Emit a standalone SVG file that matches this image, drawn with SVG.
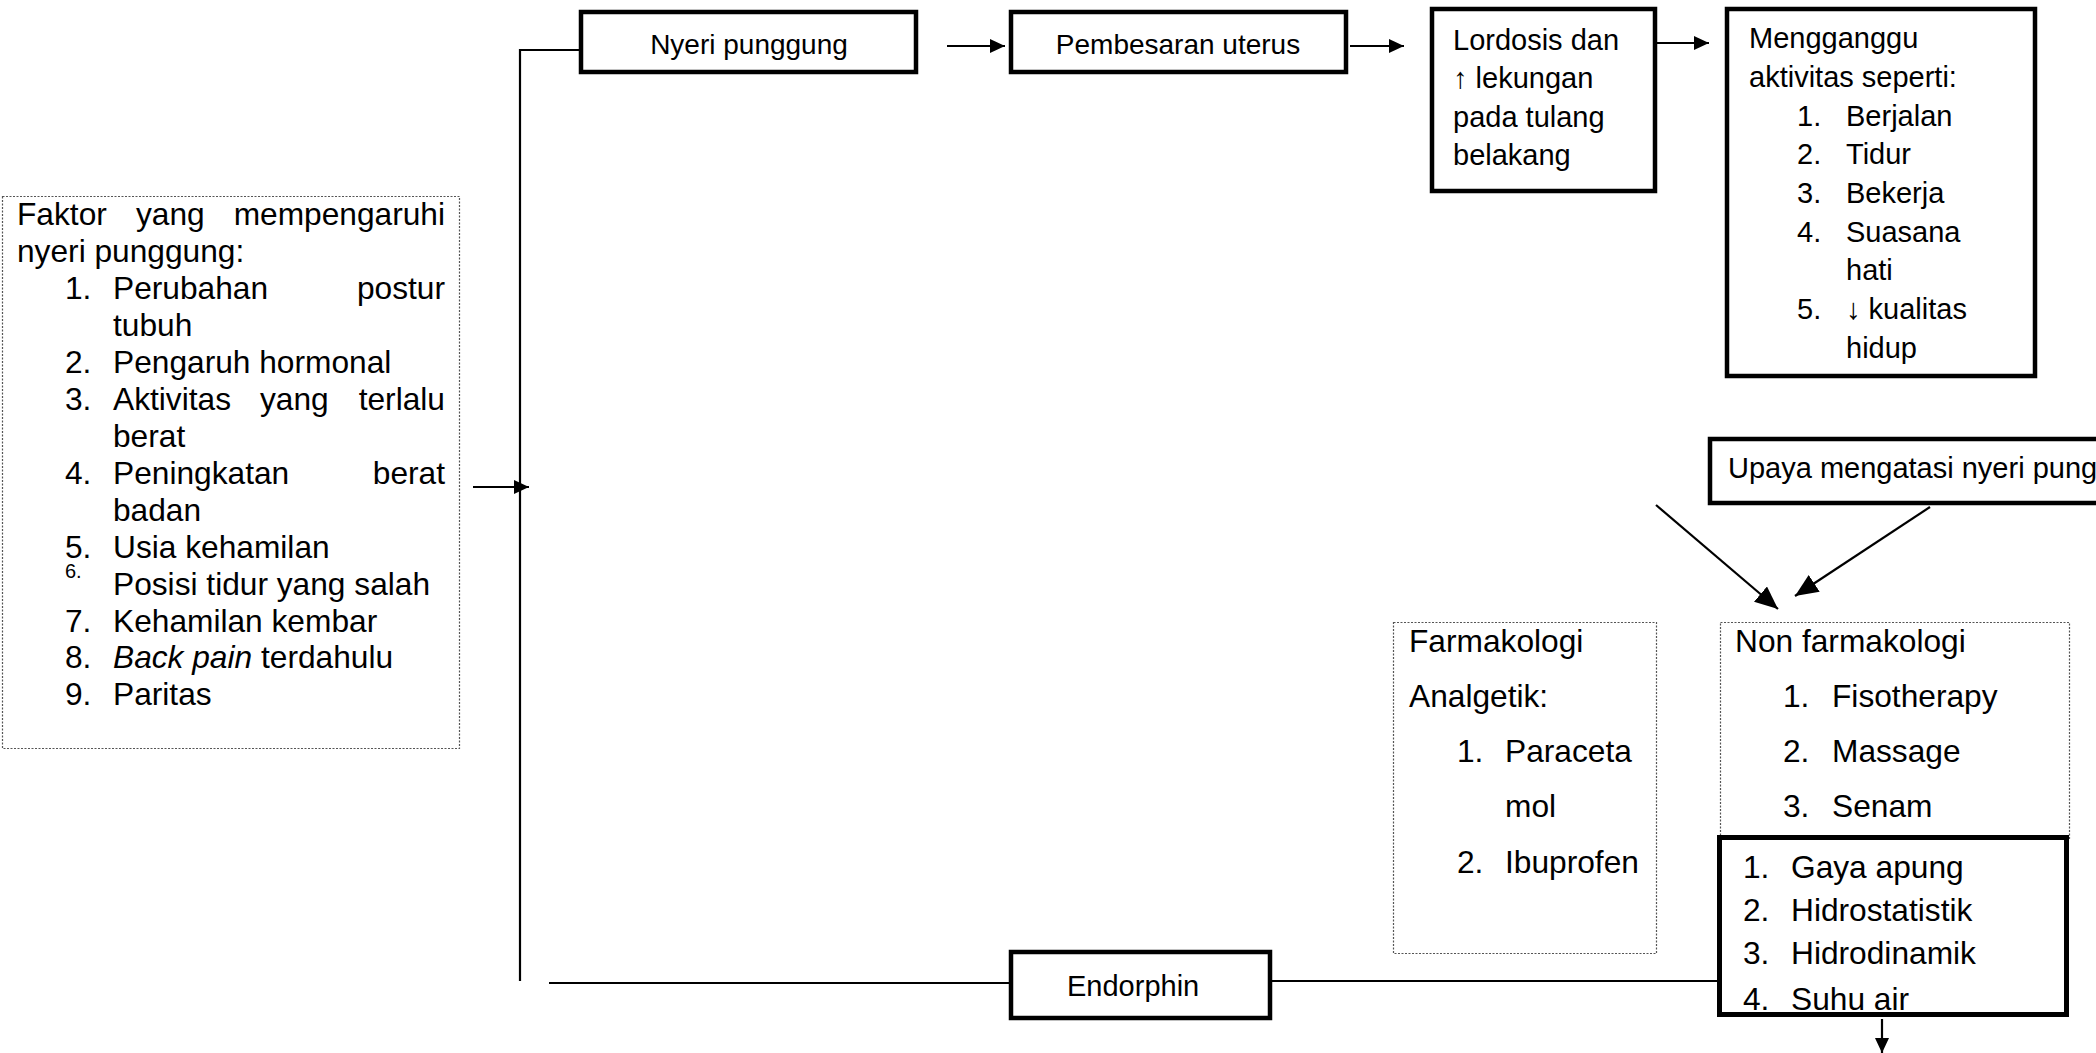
<svg xmlns="http://www.w3.org/2000/svg" width="2096" height="1053" viewBox="0 0 2096 1053">
<defs>
<style>
text{font-family:"Liberation Sans",Arial,sans-serif;fill:#000}
.f32{font-size:31.7px}
.f29{font-size:29px}
.f28{font-size:28px}
.bx{fill:#fff;stroke:#000;stroke-width:4.5}
.dash{fill:#fff;stroke:#555;stroke-width:1.2;stroke-dasharray:2 1.5}
.ln{fill:none;stroke:#000;stroke-width:2.2}
.end{text-anchor:end}
</style>
<marker id="ah" markerUnits="userSpaceOnUse" markerWidth="16" markerHeight="14" refX="15" refY="7" orient="auto"><path d="M0,0 L15,7 L0,14 z" fill="#000"/></marker>
<marker id="ahb" markerUnits="userSpaceOnUse" markerWidth="24" markerHeight="20" refX="23" refY="10" orient="auto"><path d="M0,0 L23,10 L0,20 z" fill="#000"/></marker>
</defs>
<rect width="2096" height="1053" fill="#fff"/>

<g id="connectors">
<polyline class="ln" points="579,50 520,50 520,981"/>
<line class="ln" x1="473" y1="487" x2="529" y2="487" marker-end="url(#ah)"/>
<line class="ln" x1="947" y1="46" x2="1005" y2="46" marker-end="url(#ah)"/>
<line class="ln" x1="1350" y1="46" x2="1404" y2="46" marker-end="url(#ah)"/>
<line class="ln" x1="1657" y1="43" x2="1709" y2="43" marker-end="url(#ah)"/>
<line class="ln" x1="1656" y1="505" x2="1778" y2="609" marker-end="url(#ahb)"/>
<line class="ln" x1="1930" y1="507" x2="1795" y2="596" marker-end="url(#ahb)"/>
<line class="ln" x1="549" y1="983" x2="1011" y2="983"/>
<line class="ln" x1="1270" y1="981" x2="1719" y2="981"/>
<line class="ln" x1="1882" y1="1019" x2="1882" y2="1053" marker-end="url(#ah)"/>
</g>

<g id="faktor">
<rect class="dash" x="2.5" y="196.5" width="457" height="552"/>
<text class="f32" x="17" y="225">Faktor</text>
<text class="f32" x="136" y="225">yang</text>
<text class="f32 end" x="445" y="225">mempengaruhi</text>
<text class="f32" x="17" y="262">nyeri punggung:</text>
<text class="f32" x="65" y="299">1.</text><text class="f32" x="113" y="299">Perubahan</text><text class="f32 end" x="445" y="299">postur</text>
<text class="f32" x="113" y="336">tubuh</text>
<text class="f32" x="65" y="373">2.</text><text class="f32" x="113" y="373">Pengaruh hormonal</text>
<text class="f32" x="65" y="410">3.</text><text class="f32" x="113" y="410">Aktivitas</text><text class="f32" x="260" y="410">yang</text><text class="f32 end" x="445" y="410">terlalu</text>
<text class="f32" x="113" y="447">berat</text>
<text class="f32" x="65" y="484">4.</text><text class="f32" x="113" y="484">Peningkatan</text><text class="f32 end" x="445" y="484">berat</text>
<text class="f32" x="113" y="521">badan</text>
<text class="f32" x="65" y="558">5.</text><text class="f32" x="113" y="558">Usia kehamilan</text>
<text x="65" y="578" style="font-size:20px">6.</text><text class="f32" x="113" y="595">Posisi tidur yang salah</text>
<text class="f32" x="65" y="632">7.</text><text class="f32" x="113" y="632">Kehamilan kembar</text>
<text class="f32" x="65" y="668">8.</text><text class="f32" x="113" y="668"><tspan font-style="italic">Back pain</tspan> terdahulu</text>
<text class="f32" x="65" y="705">9.</text><text class="f32" x="113" y="705">Paritas</text>
</g>

<g id="nyeri">
<rect class="bx" x="581" y="12" width="335" height="60"/>
<text class="f28" x="749" y="54" text-anchor="middle">Nyeri punggung</text>
</g>

<g id="pembesaran">
<rect class="bx" x="1011" y="12" width="335" height="60"/>
<text class="f28" x="1178" y="54" text-anchor="middle">Pembesaran uterus</text>
</g>

<g id="lordosis">
<rect class="bx" x="1432" y="9" width="223" height="182"/>
<text class="f29" x="1453" y="50">Lordosis dan</text>
<text class="f29" x="1453" y="88">↑ lekungan</text>
<text class="f29" x="1453" y="127">pada tulang</text>
<text class="f29" x="1453" y="165">belakang</text>
</g>

<g id="mengganggu">
<rect class="bx" x="1727" y="9" width="308" height="367"/>
<text class="f29" x="1749" y="48">Mengganggu</text>
<text class="f29" x="1749" y="87">aktivitas seperti:</text>
<text class="f29" x="1797" y="126">1.</text><text class="f29" x="1846" y="126">Berjalan</text>
<text class="f29" x="1797" y="164">2.</text><text class="f29" x="1846" y="164">Tidur</text>
<text class="f29" x="1797" y="203">3.</text><text class="f29" x="1846" y="203">Bekerja</text>
<text class="f29" x="1797" y="242">4.</text><text class="f29" x="1846" y="242">Suasana</text>
<text class="f29" x="1846" y="280">hati</text>
<text class="f29" x="1797" y="319">5.</text><text class="f29" x="1846" y="319">↓ kualitas</text>
<text class="f29" x="1846" y="358">hidup</text>
</g>

<g id="upaya">
<rect class="bx" x="1710" y="439" width="400" height="64"/>
<text class="f29" x="1728" y="478">Upaya mengatasi nyeri punggung</text>
</g>

<g id="farmakologi">
<rect class="dash" x="1393.5" y="622.5" width="263" height="331"/>
<text class="f32" x="1409" y="652">Farmakologi</text>
<text class="f32" x="1409" y="707">Analgetik:</text>
<text class="f32" x="1457" y="762">1.</text><text class="f32" x="1505" y="762">Paraceta</text>
<text class="f32" x="1505" y="817">mol</text>
<text class="f32" x="1457" y="873">2.</text><text class="f32" x="1505" y="873">Ibuprofen</text>
</g>

<g id="nonfarmakologi">
<rect class="dash" x="1720.5" y="622.5" width="349" height="216"/>
<text class="f32" x="1735" y="652">Non farmakologi</text>
<text class="f32" x="1783" y="707">1.</text><text class="f32" x="1832" y="707">Fisotherapy</text>
<text class="f32" x="1783" y="762">2.</text><text class="f32" x="1832" y="762">Massage</text>
<text class="f32" x="1783" y="817">3.</text><text class="f32" x="1832" y="817">Senam</text>
</g>

<g id="hidroterapi">
<rect x="1719.5" y="837.5" width="347" height="177" fill="#fff"/>
<text class="f32" x="1743" y="878">1.</text><text class="f32" x="1791" y="878">Gaya apung</text>
<text class="f32" x="1743" y="921">2.</text><text class="f32" x="1791" y="921">Hidrostatistik</text>
<text class="f32" x="1743" y="964">3.</text><text class="f32" x="1791" y="964">Hidrodinamik</text>
<text class="f32" x="1743" y="1010">4.</text><text class="f32" x="1791" y="1010">Suhu air</text>
<rect x="1719.5" y="837.5" width="347" height="177" fill="none" stroke="#000" stroke-width="5"/>
</g>

<g id="endorphin">
<rect class="bx" x="1011" y="952" width="259" height="66"/>
<text class="f29" x="1067" y="996">Endorphin</text>
</g>
</svg>
